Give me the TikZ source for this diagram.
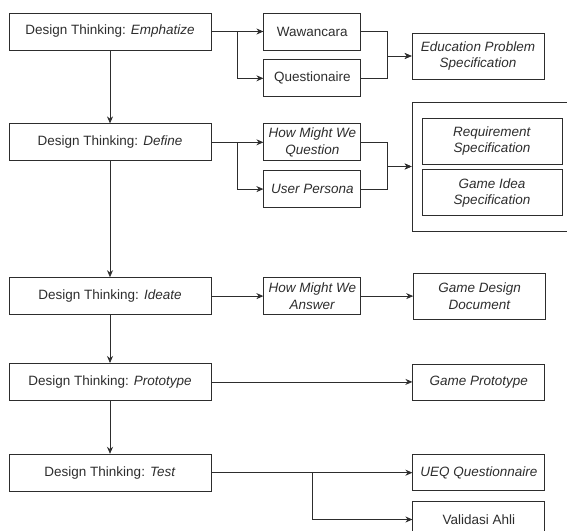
\documentclass[tikz,border=0pt]{standalone}
\usepackage{fontspec}
\setmainfont{Liberation Sans}
\usetikzlibrary{shapes,arrows.meta,positioning,calc}
\definecolor{dtgray}{RGB}{45,45,45}

\begin{document}
\begin{tikzpicture}[
    x=1pt, y=-1pt,
    node distance=52pt,
    every node/.style={font=\fontsize{13.5}{16.5}\selectfont, text=dtgray},
    stage/.style={rectangle, draw=dtgray, line width=0.8pt, minimum width=202pt, minimum height=37pt, align=center, inner sep=1pt},
    item/.style={rectangle, draw=dtgray, line width=0.8pt, minimum width=97pt, minimum height=37pt, align=center, inner sep=1pt},
    output/.style={rectangle, draw=dtgray, line width=0.8pt, minimum width=132pt, minimum height=46pt, align=center, inner sep=1pt},
    arrow/.style={->, draw=dtgray, line width=0.8pt, >={Stealth[length=7pt,width=6pt]}}
]
\useasboundingbox (0,0) rectangle (567,530);
\clip (0,0) rectangle (567,530);

% Design thinking stages
\node[stage] (emph) at (110,31.5) {Design Thinking: \textit{Emphatize}};
\node[stage, below=73pt of emph] (define) {Design Thinking: \textit{Define}};
\node[stage, below=116pt of define] (ideate) {Design Thinking: \textit{Ideate}};
\node[stage, below=48pt of ideate] (proto) {Design Thinking: \textit{Prototype}};
\node[stage, below=53pt of proto] (test) {Design Thinking: \textit{Test}};

% Activities
\node[item, right=of emph] (waw) {Wawancara};
\node[item, below=9pt of waw] (ques) {Questionaire};
\node[item, right=of define] (hmwq) {\textit{How Might We}\\\textit{Question}};
\node[item, below=9pt of hmwq] (persona) {\textit{User Persona}};
\node[item, right=of ideate] (hmwa) {\textit{How Might We}\\\textit{Answer}};

% Outputs
\node[output] (edu) at (478,56) {\textit{Education Problem}\\\textit{Specification}};
\node[rectangle, draw=dtgray, line width=0.8pt, minimum width=160pt, minimum height=129pt] (specbox) at (492,166.5) {};
\node[output, minimum width=140pt] (req) at (492,141) {\textit{Requirement}\\\textit{Specification}};
\node[output, minimum width=140pt, below=5pt of req] (gameidea) {\textit{Game Idea}\\\textit{Specification}};
\node[output, right=of hmwa] (gdd) {\textit{Game Design}\\\textit{Document}};
\node[output, minimum height=36pt, right=201pt of proto] (gproto) {\textit{Game Prototype}};
\node[output, minimum height=36pt, right=201pt of test] (ueq) {\textit{UEQ Questionnaire}};
\node[output, minimum height=36pt, below=10pt of ueq] (val) {Validasi Ahli};

% Flow between stages
\draw[arrow] (emph) -- (define);
\draw[arrow] (define) -- (ideate);
\draw[arrow] (ideate) -- (proto);
\draw[arrow] (proto) -- (test);

% Emphatize
\draw[arrow] (emph) -- (waw);
\draw[arrow] (emph.east) -- ++(26,0) |- (ques);
\draw[arrow] (waw.east) -- ++(26,0) |- (edu);
\draw[arrow] (ques.east) -- ++(26,0) |- (edu);

% Define
\draw[arrow] (define) -- (hmwq);
\draw[arrow] (define.east) -- ++(26,0) |- (persona);
\draw[arrow] (hmwq.east) -- ++(26,0) |- (specbox);
\draw[arrow] (persona.east) -- ++(26,0) |- (specbox);

% Ideate, Prototype, Test
\draw[arrow] (ideate) -- (hmwa);
\draw[arrow] (hmwa) -- (gdd);
\draw[arrow] (proto) -- (gproto);
\draw[arrow] (test) -- (ueq);
\draw[arrow] (test.east) -- ++(101,0) |- (val);

\end{tikzpicture}
\end{document}
